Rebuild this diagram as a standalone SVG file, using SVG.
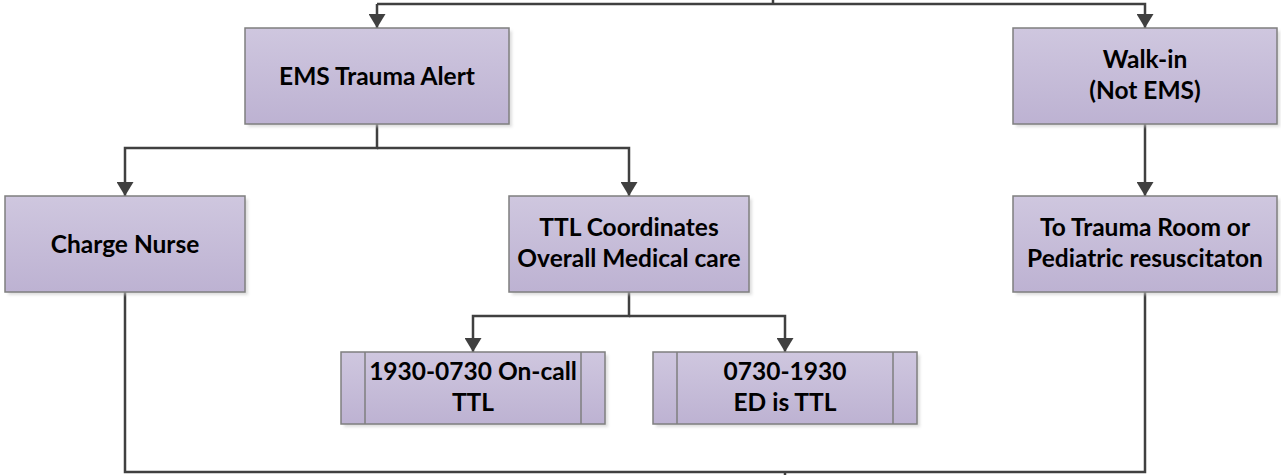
<svg xmlns="http://www.w3.org/2000/svg" width="1281" height="475" viewBox="0 0 1281 475">
<style>
.box{fill:url(#g);stroke:#7f7f7f;stroke-width:1.5}
.sh{fill:#c8c8c8;opacity:0.6;filter:url(#blur)}
.inner{stroke:#7f7f7f;stroke-width:1.5;fill:none}
.t{font-family:Lato,"Liberation Sans",sans-serif;font-weight:bold;font-size:24.5px;fill:#000;text-anchor:middle}
.c{fill:none;stroke:#404040;stroke-width:2.5}
.ca{fill:none;stroke:#404040;stroke-width:2.5;marker-end:url(#arr)}
</style>
<defs>
<linearGradient id="g" x1="0" y1="0" x2="0" y2="1">
<stop offset="0" stop-color="#cfc7df"/>
<stop offset="1" stop-color="#bdb2d2"/>
</linearGradient>
<filter id="blur" x="-5%" y="-5%" width="110%" height="110%"><feGaussianBlur stdDeviation="1.5"/></filter>
<marker id="arr" markerUnits="userSpaceOnUse" viewBox="0 -8.5 14 17" refX="14" refY="0" markerWidth="14" markerHeight="17" orient="auto">
<path d="M0,-8.5 L14,0 L0,8.5 z" fill="#404040"/>
</marker>
</defs>
<g id="connectors">
<path class="c" d="M773,0 V4"/>
<path class="ca" d="M377,4 H773 M377,4 V28"/>
<path class="ca" d="M773,4 H1145 V28"/>
<path class="ca" d="M377,124 V148 H125 V196"/>
<path class="ca" d="M377,148 H629 V196"/>
<path class="ca" d="M1145,124 V196"/>
<path class="ca" d="M629,292 V316 H473 V352"/>
<path class="ca" d="M629,316 H785 V352"/>
<path class="c" d="M125,292 V472 H1145 V292"/>
<path class="c" d="M785,472 V475"/>
</g>
<g id="ems">
<rect class="sh" x="248" y="31" width="264" height="96"/>
<rect class="box" x="245" y="28" width="264" height="96"/>
<text class="t" x="377" y="85">EMS Trauma Alert</text>
</g>
<g id="walkin">
<rect class="sh" x="1016" y="31" width="264" height="96"/>
<rect class="box" x="1013" y="28" width="264" height="96"/>
<text class="t" x="1145" y="68">Walk-in</text>
<text class="t" x="1145" y="99">(Not EMS)</text>
</g>
<g id="charge">
<rect class="sh" x="8" y="199" width="240" height="96"/>
<rect class="box" x="5" y="196" width="240" height="96"/>
<text class="t" x="125" y="253">Charge Nurse</text>
</g>
<g id="ttl">
<rect class="sh" x="512" y="199" width="240" height="96"/>
<rect class="box" x="509" y="196" width="240" height="96"/>
<text class="t" x="629" y="236">TTL Coordinates</text>
<text class="t" x="629" y="267">Overall Medical care</text>
</g>
<g id="trauma">
<rect class="sh" x="1016" y="199" width="264" height="96"/>
<rect class="box" x="1013" y="196" width="264" height="96"/>
<text class="t" x="1145" y="236">To Trauma Room or</text>
<text class="t" x="1145" y="267">Pediatric resuscitaton</text>
</g>
<g id="oncall">
<rect class="sh" x="344" y="355" width="264" height="72"/>
<rect class="box" x="341" y="352" width="264" height="72"/>
<path class="inner" d="M365,352 V424 M581,352 V424"/>
<text class="t" x="473" y="380">1930-0730 On-call</text>
<text class="t" x="473" y="411">TTL</text>
</g>
<g id="ed">
<rect class="sh" x="656" y="355" width="264" height="72"/>
<rect class="box" x="653" y="352" width="264" height="72"/>
<path class="inner" d="M677,352 V424 M893,352 V424"/>
<text class="t" x="785" y="380">0730-1930</text>
<text class="t" x="785" y="411">ED is TTL</text>
</g>
</svg>
